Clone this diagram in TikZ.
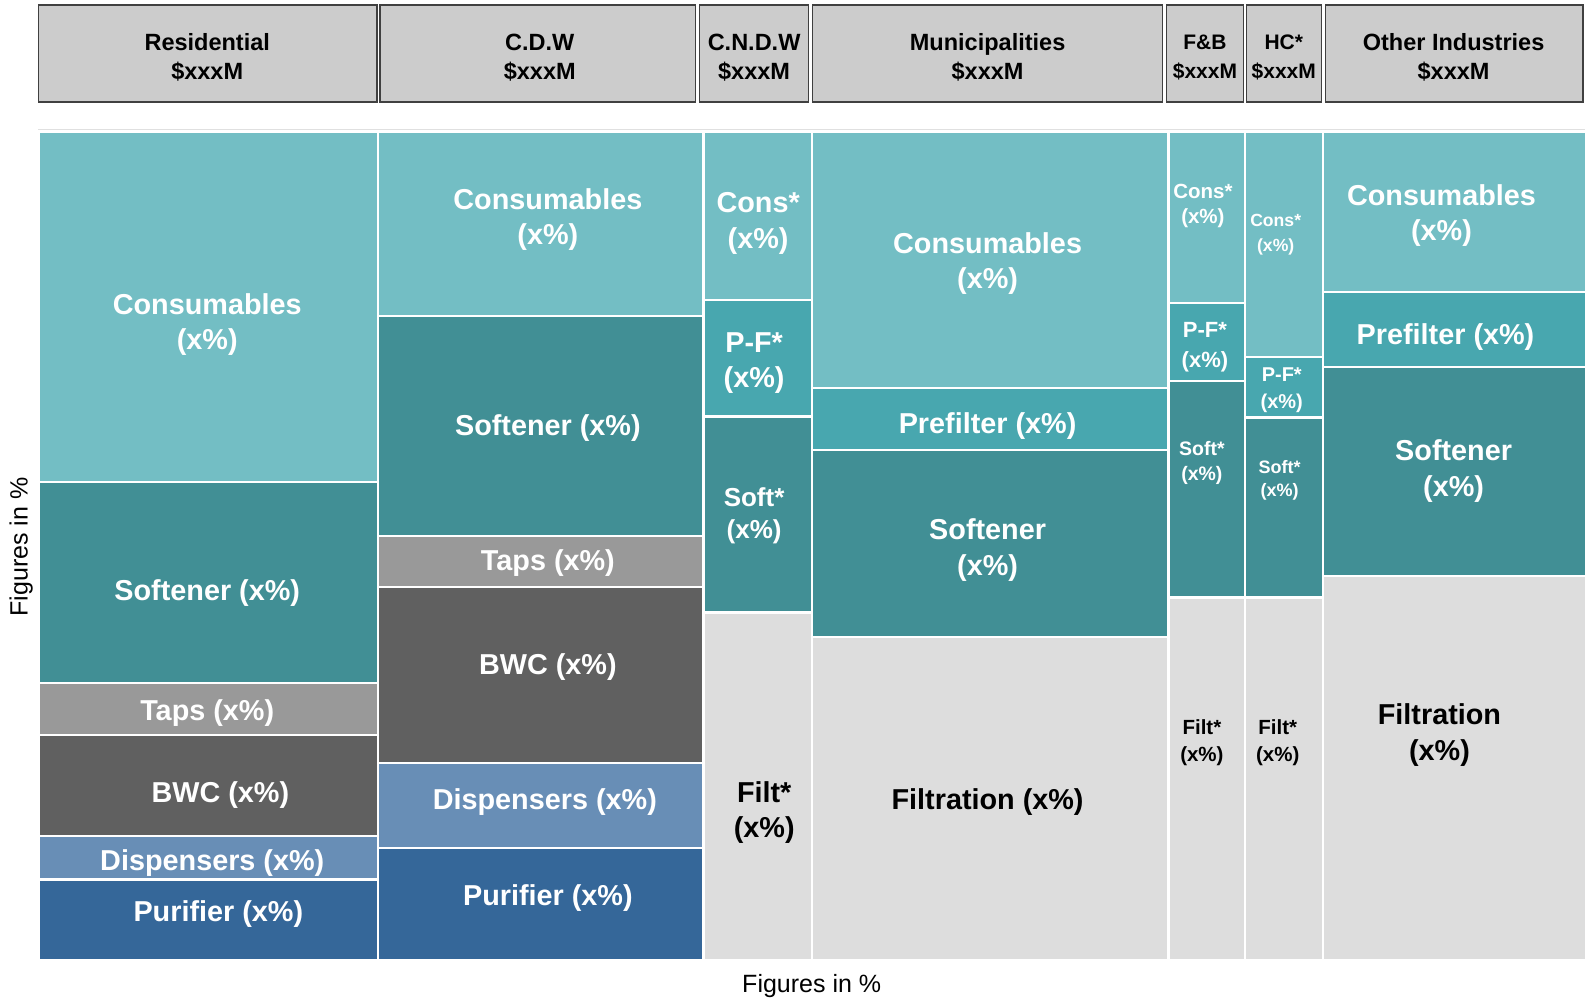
\documentclass[tikz,border=0pt]{standalone}
\usepackage{fontspec}
\setmainfont{Liberation Sans}
\definecolor{consC}{HTML}{73BEC4}
\definecolor{preC}{HTML}{48A7AF}
\definecolor{softC}{HTML}{418F95}
\definecolor{tapsC}{HTML}{999999}
\definecolor{bwcC}{HTML}{606060}
\definecolor{dispC}{HTML}{688EB6}
\definecolor{purC}{HTML}{356799}
\definecolor{filtC}{HTML}{DDDDDD}
\definecolor{hdrfill}{HTML}{CCCCCC}
\definecolor{hdrline}{HTML}{404040}
\newcommand\cellrect[5]{\draw[cellb, fill=#5] (#1,#2) rectangle (#3,#4);}
\begin{document}
\begin{tikzpicture}[x=1.0108pt, y=-1.0108pt,
  cellb/.style={draw=white, line width=2.2pt},
  hdr/.style={draw=hdrline, line width=1.3pt, fill=hdrfill},
  lab/.style={align=center, inner sep=0pt, yshift=-3pt},
  wbig/.style={lab, text=white, font=\bfseries\fontsize{28.8}{35.4}\selectfont},
  bbig/.style={lab, text=black, font=\bfseries\fontsize{28.8}{35.4}\selectfont},
  hdrtxt/.style={lab, text=black, font=\bfseries\fontsize{23.5}{28.5}\selectfont},
  hdrsm/.style={lab, text=black, font=\bfseries\fontsize{21}{28.5}\selectfont},
  axis/.style={align=center, inner sep=0pt, text=black, font=\fontsize{25}{30}\selectfont}]
\useasboundingbox (0,0) rectangle (1568,991);
% header boxes
\draw[hdr] (38,5) rectangle (373,101);
\draw[hdr] (376,5) rectangle (688,101);
\draw[hdr] (692,5) rectangle (800,101);
\draw[hdr] (804,5) rectangle (1150,101);
\draw[hdr] (1154,5) rectangle (1230,101);
\draw[hdr] (1233,5) rectangle (1307,101);
\draw[hdr] (1311,5) rectangle (1566,101);
\node[hdrtxt] (hres) at (205,54) {Residential\\\$xxxM};
\node[hdrtxt] (hcdw) at (534,54) {C.D.W\\\$xxxM};
\node[hdrtxt] (hcndw) at (746,54) {C.N.D.W\\\$xxxM};
\node[hdrtxt] (hmun) at (977,54) {Municipalities\\\$xxxM};
\node[hdrsm] (hfb) at (1192,54) {F\&B\\\$xxxM};
\node[hdrsm] (hhc) at (1270,54) {HC*\\\$xxxM};
\node[hdrtxt] (hoth) at (1438,54) {Other Industries\\\$xxxM};
% faint top line of plot area
\draw[color=black!12, line width=1pt] (38,128.5) -- (1568,128.5);
% Residential column
\cellrect{38}{130}{374}{476.5}{consC}
\cellrect{38}{476.5}{374}{676}{softC}
\cellrect{38}{676}{374}{727}{tapsC}
\cellrect{38}{727}{374}{827}{bwcC}
\cellrect{38}{827}{374}{870}{dispC}
\cellrect{38}{870}{374}{950}{purC}
% C.D.W column
\cellrect{374}{130}{696}{312.5}{consC}
\cellrect{374}{312.5}{696}{530}{softC}
\cellrect{374}{530}{696}{581}{tapsC}
\cellrect{374}{581}{696}{755}{bwcC}
\cellrect{374}{755}{696}{839}{dispC}
\cellrect{374}{839}{696}{950}{purC}
% C.N.D.W column
\cellrect{696}{130}{803}{297}{consC}
\cellrect{696}{297}{803}{412}{preC}
\cellrect{696}{412}{803}{606}{softC}
\cellrect{696}{606}{803}{950}{filtC}
% Municipalities column
\cellrect{803}{130}{1156}{384}{consC}
\cellrect{803}{384}{1156}{445}{preC}
\cellrect{803}{445}{1156}{630}{softC}
\cellrect{803}{630}{1156}{950}{filtC}
% F&B column
\cellrect{1156}{130}{1232}{300}{consC}
\cellrect{1156}{300}{1232}{377}{preC}
\cellrect{1156}{377}{1232}{591}{softC}
\cellrect{1156}{591}{1232}{950}{filtC}
% HC column
\cellrect{1232}{130}{1309}{353}{consC}
\cellrect{1232}{353}{1309}{413}{preC}
\cellrect{1232}{413}{1309}{591}{softC}
\cellrect{1232}{591}{1309}{950}{filtC}
% Other industries column
\cellrect{1309}{130}{1569}{289}{consC}
\cellrect{1309}{289}{1569}{363}{preC}
\cellrect{1309}{363}{1569}{570}{softC}
\cellrect{1309}{570}{1569}{950}{filtC}
% Residential labels
\node[wbig] (rcons) at (205,318) {Consumables\\(x\%)};
\node[wbig] (rsoft) at (205,584) {Softener (x\%)};
\node[wbig] (rtaps) at (205,702) {Taps (x\%)};
\node[wbig] (rbwc) at (218,784) {BWC (x\%)};
\node[wbig] (rdisp) at (210,851) {Dispensers (x\%)};
\node[wbig] (rpur) at (216,901) {Purifier (x\%)};
% C.D.W labels
\node[wbig] (ccons) at (542,214) {Consumables\\(x\%)};
\node[wbig] (csoft) at (542,420) {Softener (x\%)};
\node[wbig] (ctaps) at (542,554) {Taps (x\%)};
\node[wbig] (cbwc) at (542,657) {BWC (x\%)};
\node[wbig] (cdisp) at (539,790) {Dispensers (x\%)};
\node[wbig] (cpur) at (542,885) {Purifier (x\%)};
% C.N.D.W labels
\node[wbig] (ncons) at (750,218) {Cons*\\(x\%)};
\node[wbig] (npf) at (746,356) {P-F*\\(x\%)};
\node[lab, text=white, font=\bfseries\fontsize{26}{32}\selectfont] (nsoft) at (746,507) {Soft*\\(x\%)};
\node[bbig] (nfilt) at (756,801) {Filt*\\(x\%)};
% Municipalities labels
\node[wbig] (mcons) at (977,258) {Consumables\\(x\%)};
\node[wbig] (mpre) at (977,419) {Prefilter (x\%)};
\node[wbig] (msoft) at (977,541) {Softener\\(x\%)};
\node[bbig] (mfilt) at (977,790) {Filtration (x\%)};
% F&B labels
\node[lab, text=white, font=\bfseries\fontsize{20.5}{25.5}\selectfont] (fcons) at (1190,201) {Cons*\\(x\%)};
\node[lab, text=white, font=\bfseries\fontsize{22}{30}\selectfont] (fpf) at (1192,341) {P-F*\\(x\%)};
\node[lab, text=white, font=\bfseries\fontsize{19.5}{25.5}\selectfont] (fsoft) at (1189,455) {Soft*\\(x\%)};
\node[lab, text=black, font=\bfseries\fontsize{20.5}{26.5}\selectfont] (ffilt) at (1189,732) {Filt*\\(x\%)};
% HC labels
\node[lab, text=white, font=\bfseries\fontsize{17.6}{24.5}\selectfont] (hccons) at (1262,229) {Cons*\\(x\%)};
\node[lab, text=white, font=\bfseries\fontsize{20}{26.5}\selectfont] (hcpf) at (1268,383) {P-F*\\(x\%)};
\node[lab, text=white, font=\bfseries\fontsize{18}{22.5}\selectfont] (hcsoft) at (1266,472) {Soft*\\(x\%)};
\node[lab, text=black, font=\bfseries\fontsize{20.5}{26.5}\selectfont] (hcfilt) at (1264,732) {Filt*\\(x\%)};
% Other industries labels
\node[wbig] (ocons) at (1426,210) {Consumables\\(x\%)};
\node[wbig] (opre) at (1430,330) {Prefilter (x\%)};
\node[wbig] (osoft) at (1438,463) {Softener\\(x\%)};
\node[bbig] (ofilt) at (1424,724) {Filtration\\(x\%)};
% axis labels
\node[axis] (xlab) at (803,975) {Figures in \%};
\node[axis, rotate=90] (ylab) at (21,541) {Figures in \%};
\end{tikzpicture}
\end{document}
